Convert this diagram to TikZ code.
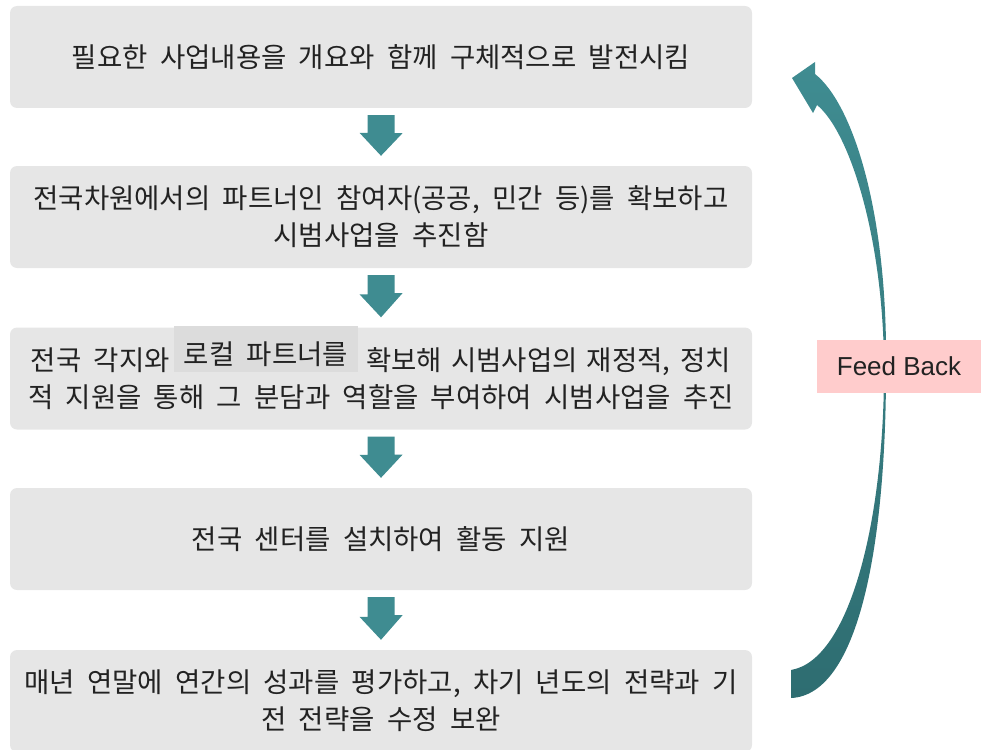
\documentclass[tikz,border=0pt]{standalone}
\usepackage{fontspec}
\newfontfamily\kr[WordSpace=2]{Noto Sans CJK KR}
\newfontfamily\lat{Liberation Sans}
\definecolor{boxgray}{HTML}{E6E6E6}
\definecolor{labgray}{HTML}{DCDCDC}
\definecolor{tealA}{HTML}{3F8C91}
\definecolor{tealB}{HTML}{2E6D71}
\definecolor{pinkfb}{HTML}{FFCCCC}
\definecolor{txt}{HTML}{222222}
\tikzset{
  stepbox/.style={fill=boxgray, rounded corners=7pt, minimum width=742pt, minimum height=102pt,
    align=center, text=txt, font=\kr\fontsize{27.5}{37}\selectfont, inner sep=0pt},
  labbox/.style={fill=labgray, minimum width=184pt, minimum height=46pt, text=txt,
    font=\kr\fontsize{27.5}{37}\selectfont, inner sep=0pt},
  fbbox/.style={fill=pinkfb, minimum width=164pt, minimum height=53pt, text=txt,
    font=\lat\fontsize{26}{30}\selectfont, inner sep=0pt},
  blockarr/.style={fill=tealA}
}
\newcommand\downarr[2]{%
  \fill[blockarr] ([shift={(-13.5pt,-7pt)}]#1.south) -- ++(27,0) -- ++(0,18) -- ++(8,0)
    -- ([yshift=10pt]#2.north) -- ++(-21.5,-23) -- ++(8,0) -- cycle;}
\begin{document}
\begin{tikzpicture}[x=1pt,y=-1pt]
\useasboundingbox (0,0) rectangle (981,749);
\node[stepbox] (b1) at (381,57) {필요한 사업내용을 개요와 함께 구체적으로 발전시킴};
\node[stepbox] (b2) at (381,217) {전국차원에서의 파트너인 참여자(공공, 민간 등)를 확보하고\\시범사업을 추진함};
\node[stepbox] (b3) at (381,378.5) {\makebox[700pt][s]{전국 각지와\hfill\makebox[365pt][s]{확보해 시범사업의 재정적, 정치}}\\적 지원을 통해 그 분담과 역할을 부여하여 시범사업을 추진};
\node[stepbox] (b4) at (381,539) {전국 센터를 설치하여 활동 지원};
\node[stepbox] (b5) at (381,701) {매년 연말에 연간의 성과를 평가하고, 차기 년도의 전략과 기\\전 전략을 수정 보완};
\node[labbox] (lab) at (266,349) {\raisebox{-5pt}[\height][\depth]{로컬 파트너를}};
\downarr{b1}{b2}
\downarr{b2}{b3}
\downarr{b3}{b4}
\downarr{b4}{b5}
% feedback arrow
\shade[top color=tealA, bottom color=tealB]
  (791,670) .. controls (850,660) and (884,520) .. (884,370)
  .. controls (884,240) and (850,132) .. (817,105)
  -- (813,113) -- (792,78) -- (815,62) -- (815,74)
  .. controls (852,103) and (888,210) .. (886,370)
  .. controls (886,540) and (860,695) .. (791,698) -- cycle;
\node[fbbox] (fb) at (899,366.5) {Feed Back};
\end{tikzpicture}
\end{document}
